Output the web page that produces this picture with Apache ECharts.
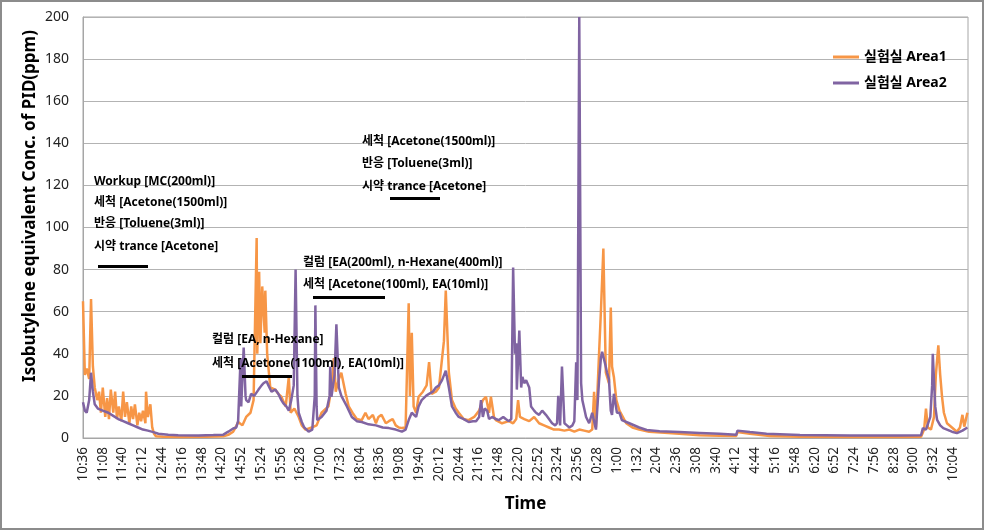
<!DOCTYPE html>
<html>
<head>
<meta charset="utf-8">
<script src="https://cdn.jsdelivr.net/npm/echarts@6/dist/echarts.min.js"></script>
<style>
  html, body { margin: 0; padding: 0; background: #fff; }
  #chart { width: 984px; height: 530px; }
</style>
</head>
<body>
<div id="chart"></div>
<script>
// minutes after 10:36
var startMinutes = 10 * 60 + 36;

var area1Time = [0, 3, 6, 10, 13, 16, 19, 23, 26, 29, 32, 36, 39, 42, 45, 49, 52, 55, 58, 62, 65, 68, 71, 75, 78, 81, 84, 88, 91, 94, 97, 101, 102, 105, 109, 112, 115, 118,
  130, 160, 200, 227, 235, 243, 247, 251, 258, 264, 271, 276, 281, 282, 285, 287, 290, 294, 295, 298, 303, 311, 316, 321, 328, 333, 336, 342, 349, 354, 360, 370, 378,
  386, 397, 402, 406, 409, 414, 418, 425, 430, 436, 443, 451, 457, 462, 469, 474, 478, 483, 490, 495, 501, 506, 511, 516, 522, 527, 529, 532, 535, 539, 543, 550, 556,
  560, 564, 571, 576, 584, 587, 592, 597, 603, 608, 616, 624, 633, 641, 647, 652, 657, 660, 665, 668, 678, 689, 696, 701, 704, 707, 714, 722, 730, 738, 746, 754,
  762, 770, 779, 787, 795, 803, 811, 819, 824, 827, 830, 835, 838, 842, 845, 846, 851, 854, 856, 859, 863, 868, 879, 889, 900, 916, 941, 965, 998, 1030, 1057, 1059,
  1079, 1111, 1160, 1241, 1322, 1356, 1361, 1364, 1367, 1372, 1377, 1380, 1384, 1387, 1390, 1393, 1398, 1406, 1414, 1419, 1423, 1426, 1429, 1431];
var area1Value = [65, 30, 33, 28, 66, 34, 24, 18, 22, 12, 24, 10, 19, 9, 23, 12, 22, 9, 15, 8, 22, 10, 17, 7, 15, 9, 16, 6, 12, 8, 13, 7, 22, 10, 16, 5, 2, 0.8,
  0.6, 0.5, 0.6, 0.8, 1.5, 3, 5, 7.6, 6, 10, 12, 18, 95, 40, 79, 45, 72, 50, 70, 40, 24, 23, 21, 19.6, 15, 29, 12, 14, 10, 6, 4, 5, 6,
  12, 15, 24, 38, 22, 28, 31, 21, 15, 12, 9, 8.5, 12, 9, 11, 7, 10, 11, 7, 8, 9, 6, 5, 4.7, 5, 64, 20, 50, 15, 12, 19.6, 22, 25,
  36, 21, 22, 24, 46, 70, 31, 18, 14, 12, 9, 8.5, 10, 13, 18, 19.6, 12, 19.6, 10, 8.5, 7, 8, 7, 9, 18, 10, 9, 8, 10, 7, 6, 5,
  4, 4, 3.5, 4, 3, 4, 3.5, 3, 4, 22, 5, 40, 60, 90, 45, 31, 26, 62, 34, 29, 18, 13, 7, 5, 4, 3, 2.5, 2, 1.3, 1.1, 1, 2.8,
  2, 1, 0.6, 0.5, 0.5, 0.6, 4, 14, 5, 4, 10, 30, 44, 30, 19.5, 12, 7, 5, 3, 5, 11, 5.4, 6, 12];

var area2Time = [0, 3, 6, 10, 13, 16, 19, 24, 32, 41, 49, 57, 65, 73, 81, 89, 97, 105, 114, 122, 138, 154, 187, 211, 227, 235, 243, 248, 251, 255, 256, 260, 263,
  264, 268, 272, 277, 284, 289, 292, 297, 300, 305, 311, 316, 321, 324, 329, 333, 337, 341, 344, 347, 349, 354, 358, 365, 371, 375, 376, 378, 379, 386, 394, 399,
  400, 402, 407, 410, 414, 418, 427, 435, 443, 451, 462, 474, 485, 495, 506, 516, 522, 527, 532, 539, 543, 548, 555, 560, 566, 571, 576, 581, 587, 592, 597, 603,
  608, 616, 624, 631, 636, 641, 644, 647, 650, 654, 657, 662, 668, 673, 680, 684, 689, 693, 696, 699, 701, 702, 706, 709, 711, 714, 717, 722, 725, 730, 733, 738,
  743, 749, 754, 759, 764, 767, 769, 772, 775, 779, 783, 787, 792, 795, 798, 800, 803, 806, 808, 811, 814, 819, 824, 827, 830, 835, 838, 840, 845, 848, 851, 854,
  856, 859, 864, 868, 872, 884, 900, 912, 933, 965, 998, 1030, 1057, 1059, 1079, 1106, 1160, 1241, 1322, 1356, 1359, 1364, 1367, 1371, 1374, 1375, 1379, 1382,
  1387, 1392, 1398, 1406, 1414, 1423, 1431];
var area2Value = [17, 13, 12, 18, 31, 22, 16, 14, 13, 12, 10.5, 9, 8, 7, 6, 5, 4, 3.5, 2.8, 2, 1.5, 1.3, 1.2, 1.4, 1.6, 3, 4.5, 5, 8, 38, 15, 43, 20,
  18, 17, 21, 20, 23, 25, 26, 27, 25, 22, 23, 21, 18, 16.6, 15, 13, 18, 25, 80, 20, 12, 7.6, 5, 3, 4, 20, 63, 15, 8.5, 10, 13, 20,
  34, 19.6, 30, 54, 24, 20, 15, 10, 8, 7.6, 6.5, 6, 5, 4.7, 4, 3, 4, 8.5, 12, 10, 15, 18, 20, 21, 22, 24, 25, 27.5, 32, 24, 15, 12,
  10, 9, 7.6, 8, 8, 10, 18, 10, 14, 13, 9, 10, 9, 8.5, 10, 9, 8, 9, 81, 40, 45, 23, 51, 24, 29, 26, 27.5, 24, 15, 13, 12, 11,
  13, 11, 9, 7, 6, 7, 20, 6, 34, 7, 6, 5, 6, 8, 36, 18, 200, 26, 18, 14, 10, 7, 12, 8, 4, 27, 38, 41, 35, 31, 28, 13,
  11, 21, 12, 12, 8.5, 7, 5, 3.8, 3.2, 2.8, 2.4, 2, 1.5, 3.5, 2.8, 2, 1.4, 1.2, 1.2, 1.3, 4.7, 4, 3.8, 10, 25, 40, 15, 8.6,
  6, 4.7, 4, 3, 2.3, 3.5, 5];

var seriesNames = ["실험실 Area1", "실험실 Area2"];
var yTitle = "Isobutylene equivalent Conc. of PID(ppm)";

var notes = [
  { x: 94, y: 182, text: "Workup [MC(200ml)]" },
  { x: 94, y: 203, text: "세척 [Acetone(1500ml)]" },
  { x: 94, y: 224, text: "반응 [Toluene(3ml)]" },
  { x: 94, y: 247, text: "시약 trance [Acetone]" },
  { x: 362, y: 142, text: "세척 [Acetone(1500ml)]" },
  { x: 362, y: 164, text: "반응 [Toluene(3ml)]" },
  { x: 362, y: 187, text: "시약 trance [Acetone]" },
  { x: 303, y: 263, text: "컬럼 [EA(200ml), n-Hexane(400ml)]" },
  { x: 303, y: 285, text: "세척 [Acetone(100ml), EA(10ml)]" },
  { x: 212, y: 340, text: "컬럼 [EA, n-Hexane]" },
  { x: 212, y: 364, text: "세척 [Acetone(1100ml), EA(10ml)]" }
];
var bars = [
  { x: 98, y: 265, w: 50 },
  { x: 390, y: 197, w: 50 },
  { x: 313, y: 296, w: 72 },
  { x: 242, y: 375, w: 50 }
];

function pairs(t, v) {
  var res = [];
  for (var i = 0; i < t.length; i++) res.push([t[i], v[i]]);
  return res;
}

function clock(v) {
  var total = startMinutes + v;
  var h = Math.floor(total / 60) % 24;
  var m = total % 60;
  return h + ":" + (m < 10 ? "0" + m : m);
}

var graphics = [
  {
    type: "rect",
    shape: { x: 1, y: 1, width: 982, height: 528 },
    style: { fill: "none", stroke: "#8c8c8c", lineWidth: 2 },
    silent: true
  },
  {
    type: "text",
    x: 30,
    y: 206,
    rotation: Math.PI / 2,
    style: {
      text: yTitle,
      fill: "#000",
      font: "bold 17px 'Noto Sans', sans-serif",
      align: "center",
      verticalAlign: "middle"
    }
  }
];
notes.forEach(function (n) {
  graphics.push({
    type: "text",
    x: n.x,
    y: n.y,
    style: {
      text: n.text,
      fill: "#000",
      font: "bold 12px 'Noto Sans', 'Noto Sans CJK KR', sans-serif",
      verticalAlign: "middle"
    },
    z: 10
  });
});
bars.forEach(function (b) {
  graphics.push({
    type: "rect",
    shape: { x: b.x, y: b.y, width: b.w, height: 3 },
    style: { fill: "#000" },
    z: 10
  });
});

var myChart = echarts.init(document.getElementById("chart"));
myChart.setOption({
  animation: false,
  backgroundColor: "#fff",
  textStyle: { fontFamily: "'Noto Sans', 'Noto Sans CJK KR', sans-serif" },
  grid: {
    left: 83,
    right: 16,
    top: 17,
    bottom: 92,
    show: true,
    borderColor: "#a6a6a6",
    borderWidth: 1
  },
  legend: {
    orient: "vertical",
    left: 828,
    top: 45,
    itemGap: 12,
    icon: "rect",
    itemWidth: 26,
    itemHeight: 3,
    textStyle: { fontSize: 14, fontWeight: "bold", color: "#000" },
    data: seriesNames
  },
  xAxis: {
    type: "value",
    min: 0,
    max: 1432,
    interval: 32,
    name: "Time",
    nameLocation: "middle",
    nameGap: 58,
    nameTextStyle: { fontSize: 17, fontWeight: "bold", color: "#000" },
    axisLine: { show: true, lineStyle: { color: "#a6a6a6" } },
    axisTick: { show: false },
    splitLine: { show: false },
    axisLabel: {
      rotate: 90,
      margin: 9,
      fontSize: 13.5,
      color: "#222",
      showMaxLabel: false,
      formatter: clock
    }
  },
  yAxis: {
    type: "value",
    min: 0,
    max: 200,
    interval: 20,
    axisLine: { show: true, lineStyle: { color: "#a6a6a6" } },
    axisTick: { show: false },
    splitLine: { lineStyle: { color: "#b3b3b3" } },
    axisLabel: { fontSize: 14, color: "#222", margin: 14 }
  },
  series: [
    {
      name: seriesNames[0],
      type: "line",
      showSymbol: false,
      color: "#F79646",
      lineStyle: { width: 2.5, color: "#F79646" },
      data: pairs(area1Time, area1Value)
    },
    {
      name: seriesNames[1],
      type: "line",
      showSymbol: false,
      color: "#8064A2",
      lineStyle: { width: 2.5, color: "#8064A2" },
      data: pairs(area2Time, area2Value)
    }
  ],
  graphic: graphics
});
</script>
</body>
</html>
